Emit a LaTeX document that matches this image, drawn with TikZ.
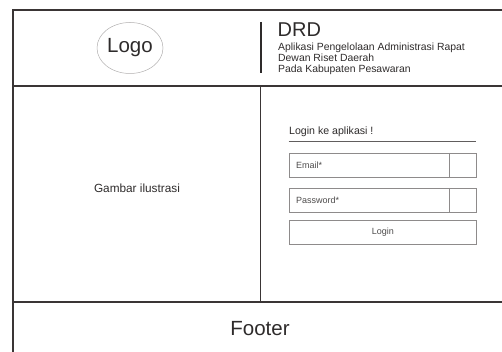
\documentclass[tikz,border=0pt]{standalone}
\usepackage{fontspec}
\setmainfont{Liberation Sans}
\usetikzlibrary{shapes.geometric}
\definecolor{frame}{HTML}{3A3535}
\definecolor{ink}{HTML}{2E2B2B}
\definecolor{field}{HTML}{8E8B8B}
\begin{document}
\begin{tikzpicture}[x=1pt,y=-1pt,
  outer/.style={draw=frame,line width=2pt},
  inner/.style={draw=frame,line width=1pt},
  txt/.style={inner sep=0pt,text=ink},
  small/.style={txt,font=\fontsize{9}{9}\selectfont,text=ink!85},
  inputbox/.style={draw=field,line width=0.8pt,minimum width=187pt,minimum height=24pt,inner sep=0pt},
]
\useasboundingbox (0,0) rectangle (502,352);
% page frame: left edge, top edge, header and footer separators
\draw[outer] (502,10) -- (12.5,10) -- (12.5,352);
\draw[outer] (12.5,86) -- (502,86);
\draw[outer] (12.5,302) -- (502,302);
% column divider between illustration and login form
\draw[inner] (260,86) -- (260,302);

% header
\node[draw=field!70,line width=0.5pt,ellipse,minimum width=66pt,minimum height=51pt,inner sep=0pt] (logo) at (130,48) {};
\node[txt,font=\fontsize{20.5}{20.5}\selectfont] at (logo) {Logo};
\draw[draw=ink,line width=1.6pt] (261,22) -- (261,73);
\node[txt,anchor=base west,font=\fontsize{20}{20}\selectfont] (drd) at (277.5,36.8) {DRD};
\node[txt,anchor=base west,font=\fontsize{10.4}{11.2}\selectfont] (sub1) at (278,50.5) {Aplikasi Pengelolaan Administrasi Rapat};
\node[txt,anchor=base west,font=\fontsize{10.4}{11.2}\selectfont] (sub2) at (278,61.7) {Dewan Riset Daerah};
\node[txt,anchor=base west,font=\fontsize{10.4}{11.2}\selectfont] (sub3) at (278,72.9) {Pada Kabupaten Pesawaran};

% left column
\node[txt,font=\fontsize{11.8}{11.8}\selectfont] (ilus) at (137,188) {Gambar ilustrasi};

% login form
\node[txt,anchor=base west,font=\fontsize{10.6}{10.6}\selectfont] (title) at (289,135) {Login ke aplikasi !};
\coordinate (ulA) at (288.5,141);
\coordinate (ulB) at (476,141);
\draw[draw=frame!80,line width=0.8pt] (ulA) -- (ulB);

\node[inputbox,anchor=north west] (email) at (289,153) {};
\draw[draw=field,line width=0.8pt] ([xshift=-27pt]email.north east) -- ([xshift=-27pt]email.south east);
\node[small,anchor=west] at ([xshift=7pt]email.west) {Email*};

\node[inputbox,anchor=north west] (pass) at (289,188) {};
\draw[draw=field,line width=0.8pt] ([xshift=-27pt]pass.north east) -- ([xshift=-27pt]pass.south east);
\node[small,anchor=west] at ([xshift=7pt]pass.west) {Password*};

\node[inputbox,anchor=north west] (login) at (289,220) {};
\node[small] at (login) {Login};

% footer
\node[txt,font=\fontsize{20.5}{20.5}\selectfont] (footer) at (260,329) {Footer};
\end{tikzpicture}
\end{document}
